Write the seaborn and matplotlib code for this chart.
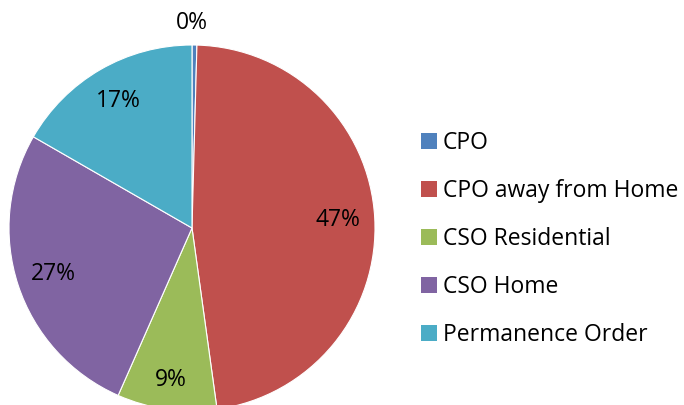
import matplotlib
matplotlib.use("Agg")
import matplotlib.pyplot as plt
import seaborn as sns
import numpy as np
from matplotlib.patches import Patch

categories = ["CPO", "CPO away from Home", "CSO Residential", "CSO Home", "Permanence Order"]
values = [0.43, 47.4, 8.8, 26.7, 16.7]
colors = ["#4F81BD", "#C0504D", "#9BBB59", "#8064A2", "#4BACC6"]

sns.set_theme(style="white")
plt.rcParams['font.family'] = ['Open Sans', 'DejaVu Sans']
plt.rcParams['text.color'] = 'black'

W, H = 684, 405
fig = plt.figure(figsize=(W / 100, H / 100), dpi=100)
cx, cy, r = 192, 228, 183
ax = fig.add_axes([(cx - r) / W, (H - cy - r) / H, 2 * r / W, 2 * r / H])

wedges, texts, autotexts = ax.pie(
    values, colors=colors, startangle=90, counterclock=False,
    autopct=lambda p: f"{p:.0f}%", pctdistance=0.8,
    wedgeprops=dict(edgecolor="white", linewidth=0.8),
    textprops=dict(fontsize=16.5, color="black"),
)
# 0% label outside at top
autotexts[0].set_position((0.0, 1.12))
# push the small 9% label a bit further out, as in the reference
x9, y9 = autotexts[2].get_position()
autotexts[2].set_position((x9 * 1.05, y9 * 1.05))
ax.set_xlim(-1, 1)
ax.set_ylim(-1, 1)
ax.set_aspect("equal")
ax.axis("off")

handles = [Patch(facecolor=c, edgecolor="none") for c in colors]
fig.legend(handles, categories, loc="center left",
           bbox_to_anchor=(421 / W, 1 - 239 / H), frameon=False,
           fontsize=16.5, handlelength=0.7, handleheight=0.7,
           handletextpad=0.24, labelspacing=1.05, borderaxespad=0, borderpad=0)

fig.savefig("out.png", dpi=100)
